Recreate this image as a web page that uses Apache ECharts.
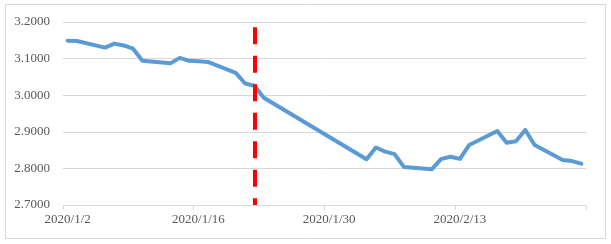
<!DOCTYPE html>
<html>
<head>
<meta charset="utf-8">
<script src="https://cdn.jsdelivr.net/npm/echarts@6/dist/echarts.min.js"></script>
<style>
  html, body { margin: 0; padding: 0; background: #fff; }
  #chart { width: 611px; height: 244px; }
</style>
</head>
<body>
<div id="chart"></div>
<script>
// Trading dates and values
const tradeDates = ['2020/1/2','2020/1/3','2020/1/6','2020/1/7','2020/1/8','2020/1/9','2020/1/10',
  '2020/1/13','2020/1/14','2020/1/15','2020/1/16','2020/1/17','2020/1/20','2020/1/21','2020/1/22','2020/1/23',
  '2020/2/3','2020/2/4','2020/2/5','2020/2/6','2020/2/7','2020/2/10','2020/2/11','2020/2/12','2020/2/13',
  '2020/2/14','2020/2/17','2020/2/18','2020/2/19','2020/2/20','2020/2/21','2020/2/24','2020/2/25','2020/2/26'];
const yieldValues = [3.149,3.148,3.130,3.141,3.136,3.127,3.094,
  3.087,3.102,3.094,3.093,3.091,3.061,3.032,3.026,2.993,
  2.825,2.857,2.846,2.839,2.804,2.798,2.826,2.832,2.826,
  2.864,2.902,2.870,2.874,2.905,2.864,2.823,2.820,2.813];
const markerDate = '2020/1/22';
const markerTop = 3.1855;
const yTicks = [2.7, 2.8, 2.9, 3.0, 3.1, 3.2];

// Build a full calendar (date axis like the original)
function fmt(d) { return d.getFullYear() + '/' + (d.getMonth() + 1) + '/' + d.getDate(); }
function parse(s) { const p = s.split('/').map(Number); return new Date(p[0], p[1] - 1, p[2]); }
const calendar = [];
for (let d = parse(tradeDates[0]); d <= parse(tradeDates[tradeDates.length - 1]); d.setDate(d.getDate() + 1)) {
  calendar.push(fmt(d));
}
const lookup = {};
tradeDates.forEach((d, i) => { lookup[d] = yieldValues[i]; });
const seriesData = calendar.map(d => (d in lookup ? lookup[d] : null));
const markerIndex = calendar.indexOf(markerDate);

const font = '"Liberation Serif", "Times New Roman", serif';
const chart = echarts.init(document.getElementById('chart'), null, { renderer: 'canvas' });
chart.setOption({
  animation: false,
  backgroundColor: '#ffffff',
  graphic: [{
    type: 'rect',
    shape: { x: 5.5, y: 4.5, width: 600, height: 234 },
    style: { fill: 'none', stroke: '#d9d9d9', lineWidth: 1 },
    silent: true, z: -1
  }],
  grid: { left: 63, right: 25, top: 22, bottom: 39, containLabel: false },
  xAxis: {
    type: 'category',
    data: calendar,
    boundaryGap: true,
    axisLine: { show: true, lineStyle: { color: '#d9d9d9', width: 1 } },
    axisTick: { show: true, interval: 13, length: 5, lineStyle: { color: '#d9d9d9' } },
    axisLabel: { interval: 13, color: '#595959', fontFamily: font, fontSize: 13, margin: 8 },
    splitLine: { show: false }
  },
  yAxis: {
    type: 'value',
    min: yTicks[0],
    max: yTicks[yTicks.length - 1],
    interval: 0.1,
    axisLine: { show: false },
    axisTick: { show: false },
    axisLabel: { color: '#595959', fontFamily: font, fontSize: 13, margin: 13,
      formatter: v => v.toFixed(4) },
    splitLine: { lineStyle: { color: '#d9d9d9', width: 1 } }
  },
  series: [{
    type: 'line',
    data: seriesData,
    connectNulls: true,
    showSymbol: false,
    symbol: 'none',
    smooth: false,
    lineStyle: { color: '#5b9bd5', width: 4, cap: 'round', join: 'round' },
    markLine: {
      silent: true,
      symbol: ['none', 'none'],
      label: { show: false },
      lineStyle: { color: '#ff0000', width: 4, type: [17, 11.5] },
      data: [[{ coord: [markerIndex, markerTop] }, { coord: [markerIndex, yTicks[0]] }]]
    }
  }]
});
</script>
</body>
</html>
